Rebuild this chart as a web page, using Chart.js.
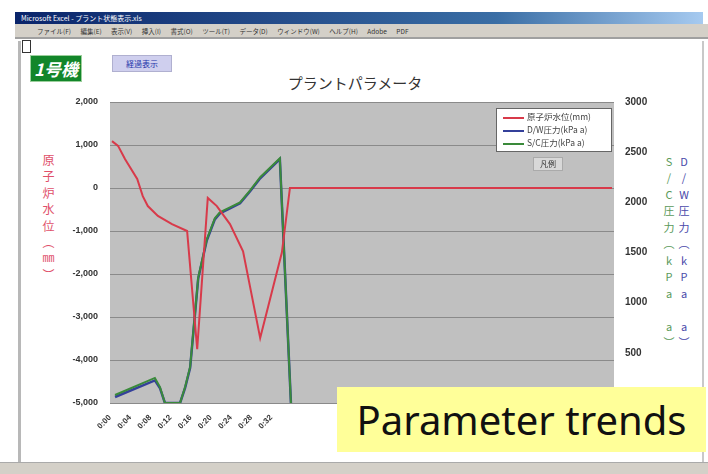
<!DOCTYPE html>
<html>
<head>
<meta charset="utf-8">
<script src="https://cdn.jsdelivr.net/npm/chart.js"></script>
<style>
  body { margin: 0; background: #fff; font-family: "Noto Sans CJK JP", "Noto Sans", sans-serif; }
  #wrap { position: relative; width: 708px; height: 474px; overflow: hidden; background: #fff; }
  #chart { position: absolute; left: 0; top: 0; }
  .abs { position: absolute; }
  .titlebar { left: 15px; top: 12px; width: 688px; height: 12px; background: linear-gradient(to right, #0a246a, #3a6ea5 70%, #a6caf0); color: #fff; font-size: 7px; line-height: 12px; padding-left: 6px; box-sizing: border-box; white-space: nowrap; }
  .menubar { left: 15px; top: 24px; width: 693px; height: 15px; background: #d4d0c8; border-bottom: 2px solid #a0a0a0; font-size: 6.5px; line-height: 15px; color: #333; white-space: nowrap; padding-left: 22px; box-sizing: border-box; word-spacing: 8px; }
  .vtitle { writing-mode: vertical-rl; text-orientation: upright; white-space: nowrap; }
</style>
</head>
<body>
<div id="wrap">
  <div class="abs titlebar">Microsoft Excel - プラント状態表示.xls</div>
  <div class="abs menubar">ファイル(F) 編集(E) 表示(V) 挿入(I) 書式(O) ツール(T) データ(D) ウィンドウ(W) ヘルプ(H) Adobe PDF</div>
  <div class="abs" style="left:18px;top:41px;width:3px;height:421px;background:#b8b8b8;"></div>
  <div class="abs" style="left:702px;top:41px;width:2px;height:421px;background:#c8c8c8;"></div>
  <div class="abs" style="left:22px;top:40px;width:7px;height:11px;border:1px solid #333;background:#fff;"></div>
  <div class="abs" style="left:0;top:462px;width:708px;height:12px;background:#d4d0c8;border-top:1px solid #aaa;"></div>

  <div class="abs" style="left:30px;top:55px;width:50px;height:25px;background:#12862a;border:1px solid #9ccf9c;color:#fff;font-weight:bold;font-style:italic;font-size:17px;line-height:25px;text-align:center;">1号機</div>
  <div class="abs" style="left:112px;top:55px;width:58px;height:15px;background:#cfcfee;border:1px solid #b0b0d0;color:#2233aa;font-size:8px;line-height:15px;text-align:center;">経過表示</div>

  <div class="abs" style="left:255px;top:72px;width:200px;text-align:center;font-size:15px;color:#333;">プラントパラメータ</div>

  <div class="abs vtitle" style="left:40px;top:154px;font-size:12px;letter-spacing:4.5px;color:#e0506a;">原子炉水位（㎜）</div>
  <div class="abs vtitle" style="left:661px;top:156px;font-size:11px;letter-spacing:5.5px;color:#5a9a5a;">S/C圧力（kPa a）</div>
  <div class="abs vtitle" style="left:676px;top:156px;font-size:11px;letter-spacing:5.5px;color:#4a4aaa;">D/W圧力（kPa a）</div>

  <canvas id="chart" width="708" height="474"></canvas>

  <div class="abs" id="legend" style="left:496px;top:108px;width:114px;height:42px;background:#fff;border:1px solid #666;font-size:8.5px;color:#444;"></div>
  <div class="abs" style="left:533px;top:157px;width:28px;height:12px;background:#d8d8d8;border:1px solid #aaa;font-size:8px;line-height:12px;text-align:center;color:#333;">凡例</div>

  <div class="abs" style="left:337px;top:387px;width:369px;height:65px;background:#ffff99;font-family:'Noto Sans',sans-serif;font-size:40px;line-height:65px;text-align:center;color:#111;">Parameter trends</div>
</div>
<script>
// x positions are elapsed-time units (0..100), 4 units per labelled tick
const tickLabels = ['0:00', '0:04', '0:08', '0:12', '0:16', '0:20', '0:24', '0:28', '0:32'];

const levelX = [0.4, 1.6, 3.0, 5.4, 6.5, 7.5, 9.5, 12.3, 15.3, 17.3, 19.4, 21.2, 23.8, 26.4, 29.8, 34.1, 35.7, 99.6];
const levelY = [1090, 980, 670, 210, -190, -420, -650, -840, -1000, -3750, -230, -420, -840, -1470, -3490, -1500, 0, 0];

const scX = [1.0, 8.9, 9.9, 10.9, 13.9, 14.9, 15.9, 17.5, 19.2, 20.8, 21.8, 23.8, 25.8, 27.8, 29.8, 33.7, 35.9];
const scY = [80, 250, 160, 0, 0, 160, 360, 1250, 1630, 1840, 1900, 1950, 2000, 2120, 2250, 2440, 0];

const dwX = [1.0, 8.9, 9.9, 10.9, 13.9, 14.9, 15.9, 17.5, 19.2, 20.8, 21.8, 23.8, 25.8, 27.8, 29.8, 33.7, 35.9];
const dwY = [60, 225, 150, 0, 0, 150, 350, 1240, 1620, 1830, 1890, 1940, 1990, 2110, 2240, 2430, 0];

const seriesNames = ['原子炉水位(mm)', 'D/W圧力(kPa a)', 'S/C圧力(kPa a)'];
const seriesColors = ['#d83a4a', '#34409a', '#3a8a3a'];

const pts = (xs, ys) => xs.map((x, i) => ({ x: x, y: ys[i] }));

const plotBg = {
    id: 'plotBg',
    beforeDraw(chart) {
        const a = chart.chartArea, c = chart.ctx;
        c.save();
        c.fillStyle = '#c0c0c0';
        c.fillRect(a.left, a.top, a.right - a.left, a.bottom - a.top);
        c.restore();
    }
};

new Chart(document.getElementById('chart'), {
    type: 'line',
    data: {
        datasets: [{
            label: seriesNames[0],
            data: pts(levelX, levelY),
            borderColor: seriesColors[0],
            borderWidth: 2,
            yAxisID: 'y',
            order: 0
        }, {
            label: seriesNames[1],
            data: pts(dwX, dwY),
            borderColor: seriesColors[1],
            borderWidth: 2.5,
            yAxisID: 'y1',
            order: 2
        }, {
            label: seriesNames[2],
            data: pts(scX, scY),
            borderColor: seriesColors[2],
            borderWidth: 2,
            yAxisID: 'y1',
            order: 1
        }]
    },
    options: {
        responsive: false,
        animation: false,
        elements: { point: { radius: 0 }, line: { tension: 0 } },
        layout: { padding: { top: 102, left: 40, right: 40, bottom: 21 } },
        plugins: { legend: { display: false }, tooltip: { enabled: false } },
        scales: {
            x: {
                type: 'linear',
                min: 0,
                max: 100,
                grid: { display: false },
                border: { display: false },
                afterFit: s => { s.height = 50; },
                afterBuildTicks: s => {
                    s.ticks = tickLabels.map((t, i) => ({ value: i * 4 }));
                },
                ticks: {
                    autoSkip: false,
                    minRotation: 45,
                    maxRotation: 45,
                    padding: 2,
                    color: '#333',
                    font: { size: 8, weight: 'bold', family: 'Liberation Sans' },
                    callback: (v) => tickLabels[Math.round(v / 4)] || ''
                }
            },
            y: {
                position: 'left',
                min: -5000,
                max: 2000,
                afterFit: s => { s.width = 70; },
                grid: { color: '#8a8a8a', drawTicks: false },
                border: { display: false },
                ticks: {
                    stepSize: 1000,
                    padding: 12,
                    color: '#333',
                    font: { size: 9, weight: 'bold', family: 'Liberation Sans' },
                    callback: v => v.toLocaleString('en-US')
                }
            },
            y1: {
                position: 'right',
                min: 0,
                max: 3000,
                afterFit: s => { s.width = 54; },
                grid: { display: false, drawTicks: false },
                border: { display: false },
                ticks: {
                    stepSize: 500,
                    padding: 11,
                    color: '#333',
                    font: { size: 10, weight: 'bold', family: 'Liberation Sans' },
                    callback: v => String(v)
                }
            }
        }
    },
    plugins: [plotBg]
});

// legend box drawn in HTML over the plot, as in the sheet
const lg = document.getElementById('legend');
lg.innerHTML = seriesNames.map((n, i) =>
    '<div style="position:absolute;left:6px;top:' + (4 + i * 13) + 'px;width:21px;height:2px;margin-top:4px;background:' + seriesColors[i] + '"></div>' +
    '<div style="position:absolute;left:30px;top:' + (1 + i * 13) + 'px;white-space:nowrap;">' + n + '</div>'
).join('');
</script>
</body>
</html>
